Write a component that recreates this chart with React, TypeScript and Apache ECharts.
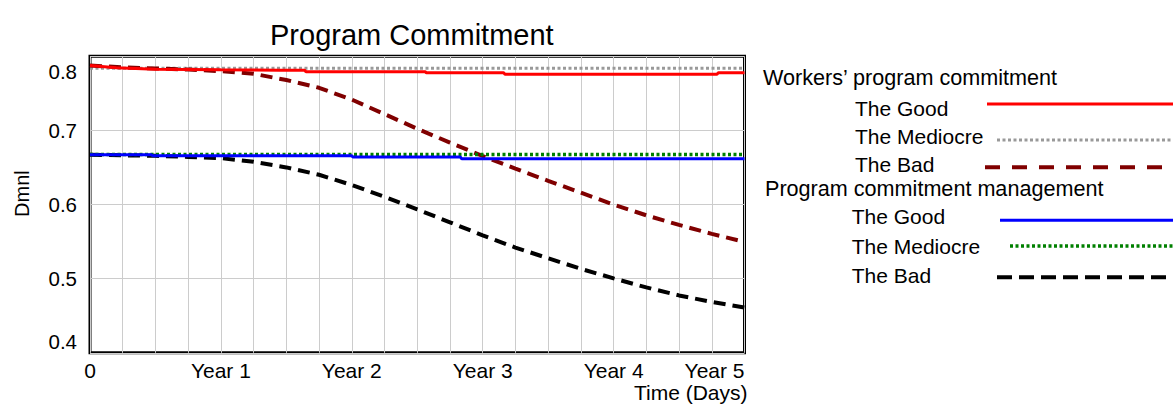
import React, { useEffect, useRef } from "react";
import * as echarts from "echarts";

// ---- data (time in years) ----
const xTickLabels = ["0", "Year 1", "Year 2", "Year 3", "Year 4", "Year 5"];
const quarterYears = [0, 0.25, 0.5, 0.75, 1, 1.25, 1.5, 1.75, 2, 2.25, 2.5, 2.75, 3, 3.25, 3.5, 3.75, 4, 4.25, 4.5, 4.75, 5];

const workersGoodTime = [0, 0.2, 0.5, 1.0, 1.45, 1.64, 1.65, 2.56, 2.57, 3.16, 3.17, 4.79, 4.8, 5];
const workersGoodValues = [0.7877, 0.7846, 0.7826, 0.7817, 0.7813, 0.7813, 0.7792, 0.7792, 0.7778, 0.7778, 0.7759, 0.7759, 0.7778, 0.7778];

const workersMediocreTime = [0, 5];
const workersMediocreValues = [0.7838, 0.7838];

const workersBadValues = [0.7877, 0.785, 0.7836, 0.7822, 0.7799, 0.7764, 0.768, 0.7575, 0.7416, 0.722, 0.7023, 0.6835, 0.6655, 0.6485, 0.632, 0.616, 0.6, 0.5855, 0.5725, 0.5605, 0.5495];

const mgmtGoodTime = [0, 0.47, 0.48, 2.0, 2.01, 2.83, 2.84, 5];
const mgmtGoodValues = [0.6671, 0.6671, 0.6657, 0.6657, 0.6641, 0.6641, 0.6617, 0.6617];

const mgmtMediocreTime = [0, 5];
const mgmtMediocreValues = [0.6675, 0.6675];

const mgmtBadValues = [0.6671, 0.6664, 0.6657, 0.6643, 0.6626, 0.6576, 0.6501, 0.6402, 0.6264, 0.6105, 0.5935, 0.576, 0.5585, 0.542, 0.5275, 0.5133, 0.5004, 0.4882, 0.4774, 0.4686, 0.4611];

const groupTitles = ["Workers\u2019 program commitment", "Program commitment management"];
const itemNames = ["The Good", "The Mediocre", "The Bad"];

const FONT = "'Liberation Sans', Arial, Helvetica, sans-serif";

const pair = (t: number[], v: number[]) => t.map((x, i) => [x, v[i]]);

const styles = {
  wGood: { color: "#ff0000", width: 3, type: "solid" as any },
  wMed: { color: "#999999", width: 3, type: [3, 2.5] as any },
  wBad: { color: "#800000", width: 4, type: [12, 7] as any },
  mGood: { color: "#0000ff", width: 3, type: "solid" as any },
  mMed: { color: "#008000", width: 3.5, type: [3, 2.5] as any },
  mBad: { color: "#000000", width: 4, type: [12, 7] as any },
};

export default function App() {
  const ref = useRef<HTMLDivElement>(null);
  useEffect(() => {
    document.body.style.margin = "0";
    const chart = echarts.init(ref.current!, undefined, { renderer: "svg" });

    const mkLine = (name: string, data: number[][], ls: any, z: number) => ({
      name,
      type: "line",
      data,
      showSymbol: false,
      symbol: "none",
      z,
      lineStyle: { color: ls.color, width: ls.width, type: ls.type, cap: "butt" },
      itemStyle: { color: ls.color },
    });

    const legendRows = [
      { text: itemNames[0], tx: 855, y: 108.7, lx: 987, ly: 104, s: styles.wGood, dash: null },
      { text: itemNames[1], tx: 855, y: 136.7, lx: 997, ly: 140, s: styles.wMed, dash: [3, 2.5] },
      { text: itemNames[2], tx: 855, y: 164, lx: 985, ly: 167.3, s: styles.wBad, dash: [15, 12] },
      { text: itemNames[0], tx: 851.7, y: 216.7, lx: 1000, ly: 220.3, s: styles.mGood, dash: null },
      { text: itemNames[1], tx: 851.7, y: 246.7, lx: 1010, ly: 246, s: styles.mMed, dash: [3, 2.5] },
      { text: itemNames[2], tx: 851.7, y: 275, lx: 997, ly: 277.3, s: styles.mBad, dash: [15, 7] },
    ];

    const graphics: any[] = [
      { type: "text", x: 763, y: 77, style: { text: groupTitles[0], font: `21.6px ${FONT}`, fill: "#000", verticalAlign: "middle", align: "left" } },
      { type: "text", x: 765, y: 188.3, style: { text: groupTitles[1], font: `21.6px ${FONT}`, fill: "#000", verticalAlign: "middle", align: "left" } },
    ];
    legendRows.forEach((r) => {
      graphics.push({ type: "text", x: r.tx, y: r.y, style: { text: r.text, font: `21px ${FONT}`, fill: "#000", verticalAlign: "middle", align: "left" } });
      graphics.push({
        type: "line",
        shape: { x1: r.lx, y1: r.ly, x2: 1180, y2: r.ly },
        style: { stroke: r.s.color, lineWidth: r.s.width, lineDash: r.dash || undefined, lineCap: "butt" },
      });
    });

    chart.setOption({
      animation: false,
      textStyle: { fontFamily: FONT },
      title: {
        text: "Program Commitment",
        left: 270,
        top: 20,
        padding: 0,
        textStyle: { fontFamily: FONT, fontSize: 29, fontWeight: "normal", color: "#000" },
      },
      grid: {
        left: 90,
        right: 428.5,
        top: 56.3,
        bottom: 53.2,
        show: true,
        borderColor: "#000",
        borderWidth: 3,
        backgroundColor: "transparent",
      },
      xAxis: {
        type: "value",
        min: 0,
        max: 5,
        interval: 1,
        name: "Time (Days)",
        nameLocation: "end",
        nameGap: 3,
        nameTextStyle: { fontFamily: FONT, fontSize: 21, color: "#000", align: "right", verticalAlign: "top", padding: [29, 0, 0, 0] },
        axisLine: { show: false },
        axisTick: { show: false },
        axisLabel: {
          fontFamily: FONT,
          fontSize: 21,
          color: "#000",
          margin: 7,
          alignMaxLabel: "right",
          formatter: (v: number) => xTickLabels[Math.round(v)] ?? "",
        },
        splitLine: { show: true, lineStyle: { color: "#cccccc", width: 1 } },
        minorTick: { show: false, splitNumber: 4 },
        minorSplitLine: { show: true, lineStyle: { color: "#cccccc", width: 1 } },
      },
      yAxis: {
        type: "value",
        min: 0.4,
        max: 0.8,
        interval: 0.1,
        name: "Dmnl",
        nameLocation: "middle",
        nameGap: 58,
        nameTextStyle: { fontFamily: FONT, fontSize: 20, color: "#000", padding: [0, 0, 0, 22] },
        axisLine: { show: false },
        axisTick: { show: false },
        axisLabel: {
          fontFamily: FONT,
          fontSize: 20.5,
          color: "#000",
          margin: 13,
          formatter: (v: number) => {
            const s = v.toFixed(1);
            if (Math.abs(v - 0.8) < 1e-6) return `{top|${s}}`;
            if (Math.abs(v - 0.4) < 1e-6) return `{bot|${s}}`;
            return s;
          },
          rich: {
            top: { fontFamily: FONT, fontSize: 20.5, color: "#000", padding: [30, 0, 0, 0] },
            bot: { fontFamily: FONT, fontSize: 20.5, color: "#000", padding: [0, 0, 22, 0] },
          },
        },
        splitLine: { show: true, lineStyle: { color: "#cccccc", width: 1 } },
      },
      series: [
        mkLine("Workers: The Mediocre", pair(workersMediocreTime, workersMediocreValues), styles.wMed, 2),
        mkLine("Workers: The Bad", pair(quarterYears, workersBadValues), styles.wBad, 3),
        mkLine("Workers: The Good", pair(workersGoodTime, workersGoodValues), styles.wGood, 4),
        mkLine("Management: The Bad", pair(quarterYears, mgmtBadValues), styles.mBad, 2),
        mkLine("Management: The Mediocre", pair(mgmtMediocreTime, mgmtMediocreValues), styles.mMed, 3),
        mkLine("Management: The Good", pair(mgmtGoodTime, mgmtGoodValues), styles.mGood, 4),
      ],
      graphic: graphics,
    });
    return () => chart.dispose();
  }, []);
  return <div ref={ref} style={{ width: 1173, height: 406 }} />;
}
